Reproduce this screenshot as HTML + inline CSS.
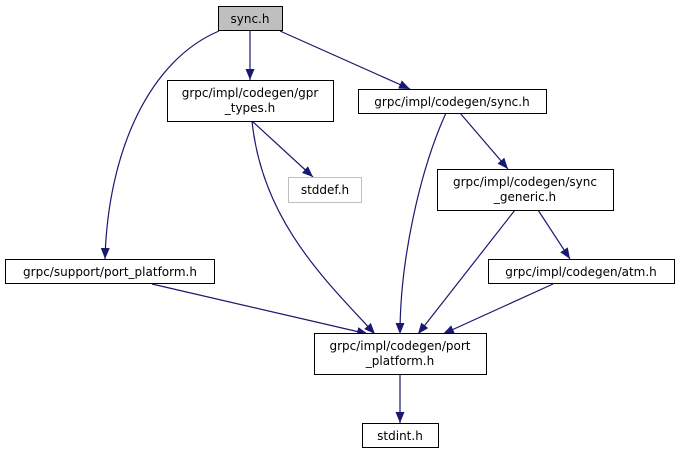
<!DOCTYPE html>
<html><head><meta charset="utf-8"><style>
html,body{margin:0;padding:0;background:#fff;}
svg{display:block}
text{font-family:"DejaVu Sans","Liberation Sans",sans-serif;font-size:12px;fill:#000;text-anchor:middle}
</style></head><body>
<svg width="677" height="455" viewBox="0 0 677 455" xmlns="http://www.w3.org/2000/svg">
<defs>
<marker id="a" markerWidth="11" markerHeight="9" refX="11" refY="4.5" orient="auto" markerUnits="userSpaceOnUse">
<path d="M0,0 L11,4.5 L0,9 Z" fill="#191970"/>
</marker>
</defs>
<g fill="none" stroke="#191970" stroke-width="1.2" marker-end="url(#a)">
<path d="M250,31 L250,80"/>
<path d="M280,31 L410,89"/>
<path d="M219,31 C150,60 108,150 105,259"/>
<path d="M252,121 L313,177"/>
<path d="M252,121 C262,220 325,280 375,334"/>
<path d="M446,113 C420,170 400,260 400,334"/>
<path d="M460,113 L508,169"/>
<path d="M515,210 L418,334"/>
<path d="M538,210 L570,259"/>
<path d="M553,284 L443,334"/>
<path d="M152,284 L368,334"/>
<path d="M400,374 L400,423"/>
</g>
<g stroke-width="1">
<rect x="218.5" y="6.5" width="64" height="24" fill="#bfbfbf" stroke="#000"/>
<rect x="167.5" y="80.5" width="166" height="41" fill="#fff" stroke="#000"/>
<rect x="358.5" y="89.5" width="188" height="24" fill="#fff" stroke="#000"/>
<rect x="288.5" y="177.5" width="73" height="25" fill="#fff" stroke="#bfbfbf"/>
<rect x="437.5" y="169.5" width="176" height="41" fill="#fff" stroke="#000"/>
<rect x="5.5" y="259.5" width="209" height="24" fill="#fff" stroke="#000"/>
<rect x="488.5" y="259.5" width="186" height="24" fill="#fff" stroke="#000"/>
<rect x="314.5" y="333.5" width="172" height="41" fill="#fff" stroke="#000"/>
<rect x="362.5" y="423.5" width="76" height="24" fill="#fff" stroke="#000"/>
</g>
<text x="250" y="23">sync.h</text>
<text x="250" y="97">grpc/impl/codegen/gpr</text>
<text x="250" y="112">_types.h</text>
<text x="452" y="106">grpc/impl/codegen/sync.h</text>
<text x="325" y="194">stddef.h</text>
<text x="525" y="186">grpc/impl/codegen/sync</text>
<text x="525" y="201">_generic.h</text>
<text x="110" y="276">grpc/support/port_platform.h</text>
<text x="581" y="276">grpc/impl/codegen/atm.h</text>
<text x="400" y="350">grpc/impl/codegen/port</text>
<text x="400" y="365">_platform.h</text>
<text x="400" y="440">stdint.h</text>
</svg>
</body></html>
